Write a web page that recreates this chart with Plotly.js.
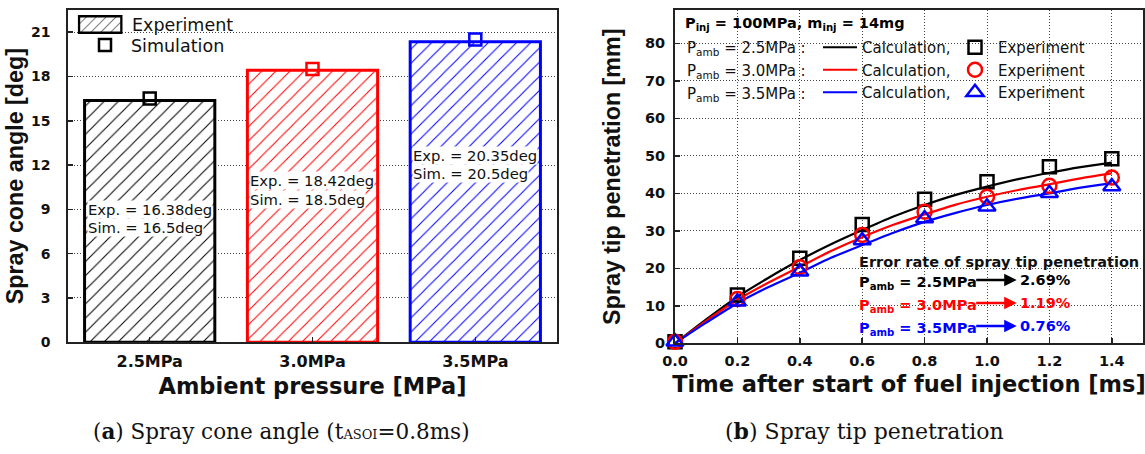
<!DOCTYPE html>
<html><head><meta charset="utf-8">
<script src="https://cdn.plot.ly/plotly-3.0.1.min.js"></script>
<style>html,body{margin:0;padding:0;background:#fff;}#chart{width:1145px;height:454px;}</style>
</head><body><div id="chart"></div>
<script>
// ---------- data: (a) spray cone angle ----------
const pressureLabels = ['2.5MPa', '3.0MPa', '3.5MPa'];
const expConeAngle = [16.38, 18.42, 20.35];
const simConeAngle = [16.5, 18.5, 20.5];
const seriesColors = ['#000000', '#ff0000', '#0000ff'];

// ---------- data: (b) spray tip penetration ----------
const expTime = [0.0, 0.2, 0.4, 0.6, 0.8, 1.0, 1.2, 1.4];
const exp25 = [0.4, 12.9, 22.7, 31.7, 38.4, 43.1, 47.1, 49.2];
const exp30 = [0.4, 11.8, 20.3, 28.9, 35.1, 39.1, 42.0, 44.2];
const exp35 = [0.4, 11.1, 19.1, 27.4, 33.3, 36.4, 40.0, 41.8];
const calcTime = [0.0, 0.1, 0.2, 0.3, 0.4, 0.5, 0.6, 0.7, 0.8, 0.9, 1.0, 1.1, 1.2, 1.3, 1.4];
const calc25 = [0.0, 6.4, 12.4, 17.5, 22.2, 26.4, 30.2, 33.8, 36.9, 39.6, 41.8, 43.8, 45.5, 47.0, 48.2];
const calc30 = [0.0, 6.0, 11.6, 16.2, 20.4, 24.6, 28.3, 31.6, 34.4, 37.0, 39.1, 40.9, 42.4, 44.0, 45.3];
const calc35 = [0.0, 5.5, 10.7, 15.0, 18.8, 22.8, 26.2, 29.5, 32.4, 34.8, 36.9, 38.6, 40.0, 41.5, 42.7];
const errorRate = [2.69, 1.19, 0.76];
const expSymbols = ['square-open', 'circle-open', 'triangle-up-open'];

// ---------- styling helpers ----------
const W = 1145, H = 454;
const px = v => v / W;
const py = v => 1 - v / H;
const HF = 'DejaVu Sans, Verdana, sans-serif';
const AF = 'Liberation Sans, Arial, sans-serif';
const SF = 'DejaVu Serif, Liberation Serif, serif';

const baseAxis = {
  showline: true, mirror: true, linecolor: '#222', linewidth: 2,
  ticks: 'inside', ticklen: 5, tickwidth: 1.5, tickcolor: '#222',
  zeroline: false, gridcolor: '#444', gridwidth: 1, griddash: '1px,2px',
  fixedrange: true
};

const traces = [];
// (a) bars
traces.push({
  type: 'bar', x: pressureLabels, y: expConeAngle, width: 0.8,
  xaxis: 'x', yaxis: 'y', showlegend: false, name: 'Experiment',
  marker: {
    color: 'white',
    line: {color: seriesColors, width: 3},
    pattern: {shape: '/', fgcolor: seriesColors, bgcolor: 'white', size: 10, solidity: 0.1, fillmode: 'replace'}
  },
  hoverinfo: 'skip'
});
traces.push({
  type: 'scatter', mode: 'markers', x: pressureLabels, y: simConeAngle,
  xaxis: 'x', yaxis: 'y', name: 'Simulation', legend: 'legend3',
  marker: {symbol: 'square-open', size: 12, color: seriesColors, line: {width: 2.5}},
  cliponaxis: false
});
// (b) calculation lines
[calc25, calc30, calc35].forEach((s, i) => {
  traces.push({
    type: 'scatter', mode: 'lines', x: calcTime, y: s, xaxis: 'x2', yaxis: 'y2',
    name: 'Calculation,', legend: 'legend',
    line: {color: seriesColors[i], width: 2.2, shape: 'spline', smoothing: 0.8}
  });
});
// (b) experiment markers
[exp25, exp30, exp35].forEach((s, i) => {
  traces.push({
    type: 'scatter', mode: 'markers', x: expTime, y: s, xaxis: 'x2', yaxis: 'y2',
    name: 'Experiment', legend: 'legend2', cliponaxis: false,
    marker: {symbol: expSymbols[i], size: i === 0 ? 13 : (i === 1 ? 14 : 15), color: seriesColors[i], line: {width: 2.5}}
  });
});

const annotations = [];
// left legend text for hatched box
annotations.push({xref: 'paper', yref: 'paper', x: px(130), y: py(25), xanchor: 'left', yanchor: 'middle',
  text: 'Experiment', showarrow: false, font: {family: HF, size: 17.5, color: '#111'}});
// bar value labels
const labelExpY = [9.01, 10.93, 12.62];
const labelSimY = [7.79, 9.64, 11.40];
pressureLabels.forEach((p, i) => {
  annotations.push({xref: 'x', yref: 'y', x: i - 0.4, y: labelExpY[i], xanchor: 'left', yanchor: 'middle', xshift: 2,
    text: 'Exp. = ' + expConeAngle[i] + 'deg', showarrow: false, bgcolor: 'white', borderpad: 0,
    font: {family: HF, size: 14.8, color: '#111'}});
  annotations.push({xref: 'x', yref: 'y', x: i - 0.4, y: labelSimY[i], xanchor: 'left', yanchor: 'middle', xshift: 2,
    text: 'Sim. = ' + simConeAngle[i] + 'deg', showarrow: false, bgcolor: 'white', borderpad: 0,
    font: {family: HF, size: 14.8, color: '#111'}});
});
// right header
annotations.push({xref: 'paper', yref: 'paper', x: px(683), y: py(24), xanchor: 'left', yanchor: 'middle',
  text: '<b>P<sub>inj</sub> = 100MPa, m<sub>inj</sub> = 14mg</b>', showarrow: false,
  font: {family: HF, size: 14.5, color: '#000'}});
const rowY = [48.5, 71.5, 94.5];
pressureLabels.forEach((p, i) => {
  annotations.push({xref: 'paper', yref: 'paper', x: px(685), y: py(rowY[i]), xanchor: 'left', yanchor: 'middle',
    text: 'P<sub>amb</sub> = ' + p + ' :', showarrow: false, font: {family: HF, size: 15, color: '#111'}});
});
// error rate block
annotations.push({xref: 'paper', yref: 'paper', x: px(856.7), y: py(261.7), xanchor: 'left', yanchor: 'middle',
  text: '<b>Error rate of spray tip penetration</b>', showarrow: false, font: {family: HF, size: 14.5, color: '#111'}});
const errY = [282.5, 305.5, 328.5];
pressureLabels.forEach((p, i) => {
  annotations.push({xref: 'paper', yref: 'paper', x: px(856.7), y: py(errY[i]), xanchor: 'left', yanchor: 'middle',
    text: '<b>P<sub>amb</sub> = ' + p + '</b>', showarrow: false, font: {family: HF, size: 14.5, color: seriesColors[i]}});
  annotations.push({xref: 'paper', yref: 'paper', x: px(1016.7), y: py(errY[i] - 2.5), text: '',
    showarrow: true, ax: -42, ay: 0, arrowhead: 2, arrowsize: 1, arrowwidth: 2.5, arrowcolor: seriesColors[i]});
  annotations.push({xref: 'paper', yref: 'paper', x: px(1018.3), y: py(errY[i] - 2.5), xanchor: 'left', yanchor: 'middle',
    text: '<b>' + errorRate[i].toFixed(2) + '%</b>', showarrow: false, font: {family: HF, size: 14.5, color: seriesColors[i]}});
});
// captions
annotations.push({xref: 'paper', yref: 'paper', x: px(281), y: py(431), xanchor: 'center', yanchor: 'middle',
  text: '(<b>a</b>) Spray cone angle (t<span style="font-size:13px">ASOI</span>=0.8ms)', showarrow: false,
  font: {family: SF, size: 21.5, color: '#111'}});
annotations.push({xref: 'paper', yref: 'paper', x: px(864), y: py(431), xanchor: 'center', yanchor: 'middle',
  text: '(<b>b</b>) Spray tip penetration', showarrow: false,
  font: {family: SF, size: 22, color: '#111'}});

// hatched legend box image (legend decoration)
const boxSvg = "<svg xmlns='http://www.w3.org/2000/svg' width='45' height='19' viewBox='0 0 45 19'>" +
  "<defs><pattern id='h' width='7' height='7' patternUnits='userSpaceOnUse' patternTransform='rotate(45)'>" +
  "<line x1='0' y1='0' x2='0' y2='7' stroke='black' stroke-width='1'/></pattern></defs>" +
  "<rect x='1.25' y='1.25' width='42.5' height='16.5' fill='white'/>" +
  "<rect x='1.25' y='1.25' width='42.5' height='16.5' fill='url(#h)' stroke='black' stroke-width='2.5'/></svg>";

const layout = {
  width: W, height: H, margin: {l: 0, r: 0, t: 0, b: 0},
  paper_bgcolor: 'white', plot_bgcolor: 'white',
  font: {family: HF, color: '#111'},
  xaxis: Object.assign({}, baseAxis, {
    domain: [px(68.3), px(556.7)], anchor: 'y', type: 'category', range: [-0.5, 2.5], showgrid: false,
    tickfont: {family: HF, size: 16, weight: 'bold', color: '#111'}, ticklabelstandoff: 3,
    title: {text: 'Ambient pressure [MPa]', font: {family: HF, size: 22.5, weight: 'bold', color: '#111'}, standoff: 9}
  }),
  yaxis: Object.assign({}, baseAxis, {
    domain: [py(342.3), py(10)], anchor: 'x', range: [0, 22.5], tick0: 0, dtick: 3, showgrid: true,
    tickfont: {family: HF, size: 14, weight: 'bold', color: '#111'}, ticklabelstandoff: 13,
    title: {text: 'Spray cone angle [deg]', font: {family: AF, size: 23.3, weight: 'bold', color: '#111'}, standoff: 1}
  }),
  xaxis2: Object.assign({}, baseAxis, {
    domain: [px(675), px(1143)], anchor: 'y2', range: [0, 1.5], tick0: 0, dtick: 0.2, tickformat: '.1f', showgrid: true,
    tickfont: {family: HF, size: 14.5, weight: 'bold', color: '#111'}, ticklabelstandoff: 3,
    title: {text: 'Time after start of fuel injection [ms]', font: {family: HF, size: 22.5, weight: 'bold', color: '#111'}, standoff: 9}
  }),
  yaxis2: Object.assign({}, baseAxis, {
    domain: [py(343.3), py(10)], anchor: 'x2', range: [0, 88.9], tick0: 0, dtick: 10, showgrid: true,
    tickfont: {family: HF, size: 14.5, weight: 'bold', color: '#111'}, ticklabelstandoff: 5,
    title: {text: 'Spray tip penetration [mm]', font: {family: AF, size: 23.3, weight: 'bold', color: '#111'}, standoff: 18}
  }),
  legend: {x: px(818), y: py(31), xanchor: 'left', yanchor: 'top', bgcolor: 'rgba(0,0,0,0)', borderwidth: 0,
    font: {family: HF, size: 15, color: '#111'}, traceorder: 'normal', itemwidth: 34, itemclick: false, itemdoubleclick: false},
  legend2: {x: px(952), y: py(31), xanchor: 'left', yanchor: 'top', bgcolor: 'rgba(0,0,0,0)', borderwidth: 0,
    font: {family: HF, size: 15, color: '#111'}, traceorder: 'normal', itemwidth: 36, itemclick: false, itemdoubleclick: false},
  legend3: {x: px(79), y: py(27), xanchor: 'left', yanchor: 'top', bgcolor: 'rgba(0,0,0,0)', borderwidth: 0,
    font: {family: HF, size: 17.5, color: '#111'}, itemwidth: 42, itemclick: false, itemdoubleclick: false},
  annotations: annotations,
  images: [{source: 'data:image/svg+xml;charset=utf-8,' + encodeURIComponent(boxSvg),
    xref: 'paper', yref: 'paper', x: px(77.7), y: py(15), sizex: px(45), sizey: 19 / H,
    xanchor: 'left', yanchor: 'top', sizing: 'stretch', layer: 'above'}]
};

Plotly.newPlot('chart', traces, layout, {staticPlot: true, displayModeBar: false});
</script>
</body></html>
